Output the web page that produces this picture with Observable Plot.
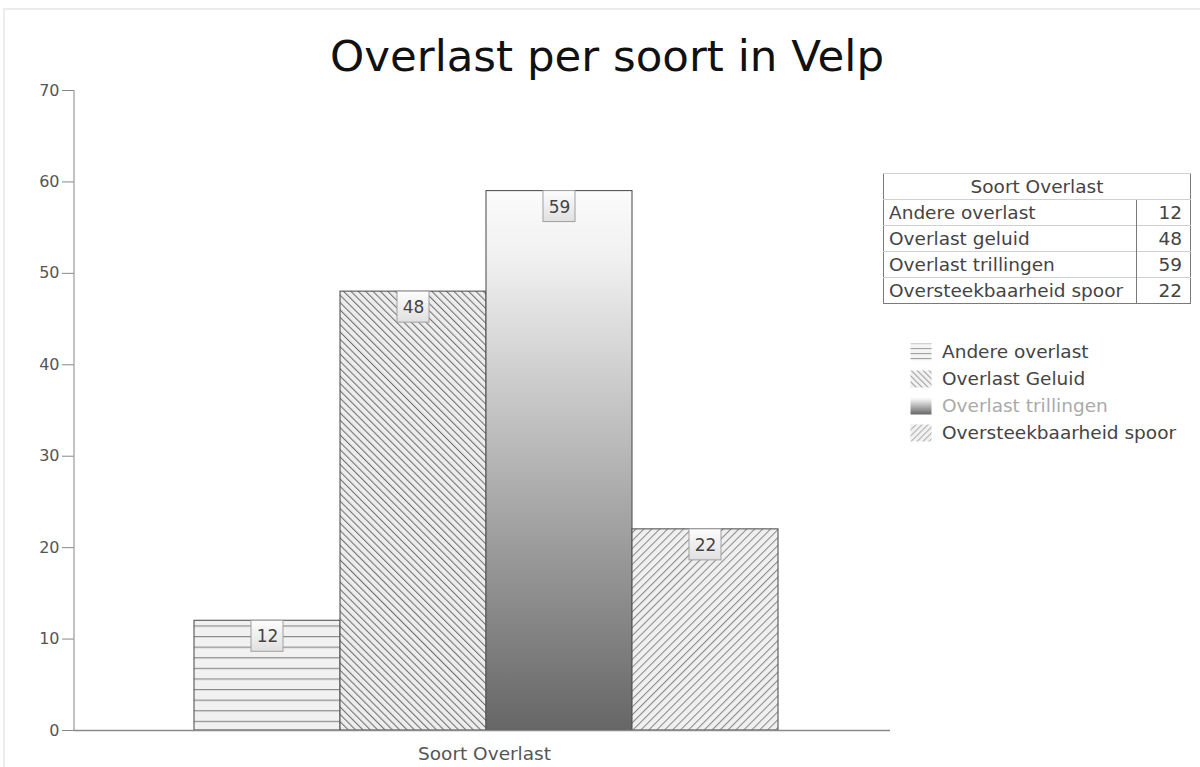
<!DOCTYPE html>
<html><head><meta charset="utf-8">
<script src="https://cdn.jsdelivr.net/npm/d3@7"></script>
<script src="https://cdn.jsdelivr.net/npm/@observablehq/plot@0.6"></script>
<style>
html,body{margin:0;padding:0;background:#fff;}
#wrap{position:relative;width:1200px;height:767px;overflow:hidden;font-family:"DejaVu Sans",Verdana,sans-serif;}
#frame{position:absolute;left:3px;top:8px;width:1300px;height:900px;border:2px solid #ececec;box-sizing:border-box;}
#title{position:absolute;left:0;top:31px;width:1200px;padding-left:14px;box-sizing:border-box;text-align:center;font-size:43.5px;line-height:50px;color:#111;}
#chart{position:absolute;left:0;top:0;}
#tbl{position:absolute;left:883px;top:173px;width:308px;border-collapse:collapse;border:1px solid #7a7a7a;font-size:18.5px;color:#444;}
#tbl td,#tbl th{height:25px;padding:0 5px;border-top:1px solid #d0d0d0;line-height:24px;white-space:nowrap;}
#tbl th{font-weight:normal;text-align:center;}
#tbl td.v{text-align:right;border-left:1px solid #7a7a7a;padding-right:8px;}
#legend{position:absolute;left:910px;top:338px;font-size:18.5px;color:#444;}
#legend .row{height:27px;display:flex;align-items:center;}
#legend svg{margin-right:10px;}
</style></head>
<body>
<div id="wrap">
 <div id="frame"></div>
 <div id="chart"></div>
 <div id="title">Overlast per soort in Velp</div>
 <table id="tbl"><colgroup><col style="width:253px"><col style="width:55px"></colgroup></table>
 <div id="legend"></div>
</div>
<script>
// ---- data ----
const categories = ["Andere overlast", "Overlast geluid", "Overlast trillingen", "Oversteekbaarheid spoor"];
const values = [12, 48, 59, 22];
const legendLabels = ["Andere overlast", "Overlast Geluid", "Overlast trillingen", "Oversteekbaarheid spoor"];
const groupLabel = "Soort Overlast";
const tableTitle = "Soort Overlast";
const yTicks = [0, 10, 20, 30, 40, 50, 60, 70];
const fills = ["url(#pat-h)", "url(#pat-bs)", "url(#grad-v)", "url(#pat-fs)"];
const legendFills = ["url(#lpat-h)", "url(#lpat-bs)", "url(#grad-v)", "url(#lpat-fs)"];
const legendColors = ["#444", "#444", "#aaa", "#444"];

const data = categories.map((c, i) => ({name: c, value: values[i]}));

const yAxisLine = (index, scales, vals, dims) => {
  const y = scales.y;
  const top = y ? y(yTicks[yTicks.length - 1]) : dims.marginTop;
  const bot = y ? y(0) : dims.height - dims.marginBottom;
  return d3.create("svg:line")
    .attr("x1", dims.marginLeft).attr("x2", dims.marginLeft)
    .attr("y1", top).attr("y2", bot)
    .attr("stroke", "#9a9a9a").attr("stroke-width", 1.2).node();
};

const svg = Plot.plot({
  width: 1200,
  height: 767,
  marginLeft: 74,
  marginRight: 310,
  marginTop: 90,
  marginBottom: 37,
  style: {fontFamily: "DejaVu Sans, Verdana, sans-serif", background: "transparent", overflow: "visible"},
  x: {type: "band", domain: categories, paddingInner: 0, paddingOuter: 0.7945, align: 0.517, axis: null},
  y: {domain: [0, 70], axis: null},
  color: {type: "ordinal", domain: categories, range: fills},
  marks: [
    Plot.barY(data, {x: "name", y: "value", fill: "name", stroke: "#555", strokeWidth: 1.1}),
    Plot.ruleY([0], {stroke: "#8a8a8a", strokeWidth: 1.5}),
    Plot.axisY({ticks: yTicks, label: null, tickSize: 12, tickPadding: 3, fontSize: 16, color: "#555", stroke: "#888"}),
    yAxisLine,
    Plot.barY(data, {x: "name", y1: "value", y2: "value", insetLeft: 57, insetRight: 57, insetTop: 0, insetBottom: -31,
      fill: "url(#lbl-grad)", stroke: "#a0a0a0", strokeWidth: 1, ariaLabel: "labelbox"}),
    Plot.text(data, {x: "name", y: "value", text: d => String(d.value), dy: 16, fontSize: 17, fill: "#444"}),
    Plot.text([groupLabel], {frameAnchor: "bottom", dy: 29, dx: 2, fontSize: 18.5, fill: "#555"})
  ]
});

// patterns & gradients
const defs = d3.select(svg).insert("defs", ":first-child");
function horiz(id, spacing, bg, line, w) {
  const p = defs.append("pattern").attr("id", id).attr("patternUnits", "userSpaceOnUse")
    .attr("width", 8).attr("height", spacing);
  p.append("rect").attr("width", 8).attr("height", spacing).attr("fill", bg);
  p.append("line").attr("x1", 0).attr("x2", 8).attr("y1", 0.6).attr("y2", 0.6).attr("stroke", line).attr("stroke-width", w);
}
function diag(id, angle, spacing, bg, line, w) {
  const p = defs.append("pattern").attr("id", id).attr("patternUnits", "userSpaceOnUse")
    .attr("width", spacing).attr("height", spacing).attr("patternTransform", `rotate(${angle})`);
  p.append("rect").attr("width", spacing).attr("height", spacing).attr("fill", bg);
  p.append("line").attr("x1", 0.5).attr("x2", 0.5).attr("y1", 0).attr("y2", spacing).attr("stroke", line).attr("stroke-width", w);
}
horiz("pat-h", 10.6, "#f1f1f1", "#8a8a8a", 1.2);
diag("pat-bs", -45, 5.2, "#ededed", "#707070", 1.1);
diag("pat-fs", 45, 5.6, "#f0f0f0", "#8a8a8a", 1.1);
horiz("lpat-h", 5, "#f4f4f4", "#999", 1);
diag("lpat-bs", -45, 4.2, "#f2f2f2", "#999", 1);
diag("lpat-fs", 45, 4.2, "#f2f2f2", "#aaa", 1);

const gv = defs.append("linearGradient").attr("id", "grad-v").attr("x1", 0).attr("y1", 0).attr("x2", 0).attr("y2", 1);
gv.append("stop").attr("offset", 0).attr("stop-color", "#fbfbfb");
gv.append("stop").attr("offset", 0.12).attr("stop-color", "#f1f1f1");
gv.append("stop").attr("offset", 1).attr("stop-color", "#666666");

const lg = defs.append("linearGradient").attr("id", "lbl-grad").attr("x1", 0).attr("y1", 0).attr("x2", 0).attr("y2", 1);
lg.append("stop").attr("offset", 0).attr("stop-color", "#fdfdfd");
lg.append("stop").attr("offset", 1).attr("stop-color", "#e0e0e0");

const f = defs.append("filter").attr("id", "lbl-shadow").attr("x", "-30%").attr("y", "-30%").attr("width", "160%").attr("height", "160%");
f.append("feDropShadow").attr("dx", 1).attr("dy", 2).attr("stdDeviation", 1).attr("flood-color", "#000").attr("flood-opacity", 0.3);

d3.select(svg).selectAll('g[aria-label="labelbox"] rect').attr("filter", "url(#lbl-shadow)");

document.getElementById("chart").appendChild(svg);

// table
const tbl = d3.select("#tbl");
tbl.append("tr").append("th").attr("colspan", 2).text(tableTitle);
categories.forEach((c, i) => {
  const tr = tbl.append("tr");
  tr.append("td").text(c);
  tr.append("td").attr("class", "v").text(values[i]);
});

// legend
const leg = d3.select("#legend");
legendLabels.forEach((l, i) => {
  const row = leg.append("div").attr("class", "row");
  const s = row.append("svg").attr("width", 22).attr("height", 18);
  s.append("rect").attr("x", 0.5).attr("y", 0.5).attr("width", 21).attr("height", 17).attr("fill", legendFills[i]).attr("stroke", "none");
  row.append("span").style("color", legendColors[i]).text(l);
});
</script>
</body></html>
